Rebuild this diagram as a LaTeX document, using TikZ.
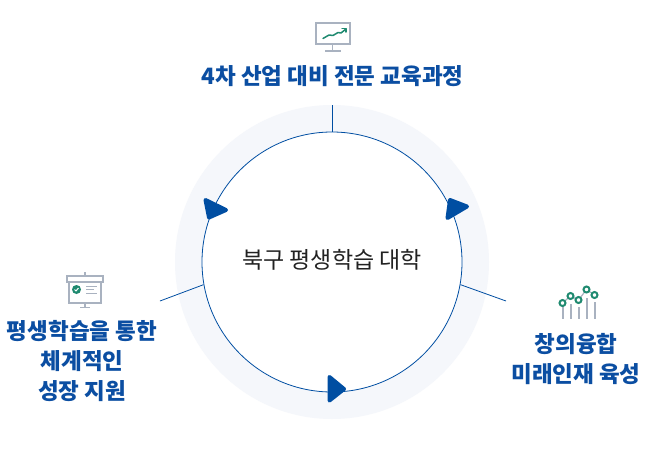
\documentclass[tikz,border=0pt]{standalone}
\usepackage{fontspec}
\newfontfamily\cjk{Noto Sans CJK KR}
\definecolor{navy}{HTML}{004EA2}
\definecolor{ringbg}{HTML}{F5F7FB}
\definecolor{titlec}{HTML}{0B4EA2}
\definecolor{iconGray}{HTML}{A9B2C0}
\definecolor{iconGreen}{HTML}{1F8A70}
\definecolor{darktxt}{HTML}{222222}
\tikzset{
  lbl/.style={font=\cjk\bfseries\fontsize{22.5}{30}\selectfont,text=titlec,align=center,inner sep=0pt},
  centerlbl/.style={font=\cjk\fontsize{23}{26}\selectfont,text=darktxt,inner sep=0pt},
  conn/.style={draw=navy,line width=0.8pt},
  tip/.style={fill=navy,draw=navy,line width=4pt,line join=round},
  ig/.style={draw=iconGray,line width=1.5pt},
  igr/.style={draw=iconGreen,line width=1.5pt,line join=round,line cap=round},
  dot/.style={circle,draw=iconGreen,fill=white,line width=2pt,minimum size=6pt,inner sep=0pt}
}
\begin{document}
\begin{tikzpicture}[x=1pt,y=-1pt]
\useasboundingbox (0,0) rectangle (650,469);
\fill[white] (0,0) rectangle (650,469);
% ring
\fill[ringbg] (332,262) circle (157);
\fill[white] (332,262) circle (130);
\node[circle,minimum size=260pt,inner sep=0pt,draw=navy,line width=0.8pt] (main) at (332,262) {};
\node[centerlbl] (title) at (332,260) {북구 평생학습 대학};
% connectors
\coordinate (topEnd) at (332,105);
\coordinate (leftEnd) at (160,301);
\coordinate (rightEnd) at (506,301);
\draw[conn] (topEnd) -- (main.90);
\draw[conn] (leftEnd) -- (main.190);
\draw[conn] (rightEnd) -- (main.-10);
% arrow tips
\filldraw[tip] (205.5,200) -- (226,210) -- (209,217.5) -- cycle;
\filldraw[tip] (450,200) -- (467,206.5) -- (447.5,218) -- cycle;
\filldraw[tip] (329.5,377) -- (344,389) -- (329.5,400.5) -- cycle;
% labels
\node[lbl] (l1) at (332.5,76) {4차 산업 대비 전문 교육과정};
\node[lbl] (l2) at (82,361.5) {평생학습을 통한\\체계적인\\성장 지원};
\node[lbl] (l3) at (576,359.5) {창의융합\\미래인재 육성};
% icon monitor
\draw[ig] (316,23) rectangle (350,44);
\draw[ig] (332.5,44) -- (332.5,50);
\draw[ig] (325,51) -- (341,51);
\draw[igr] (323,38.5) -- (329,35) -- (333,35.5) -- (338,32.5) -- (341,33) -- (346,29);
\draw[igr] (342,28.5) -- (346,28.5) -- (346,32);
% icon board
\draw[ig] (67,276) rectangle (103,282);
\draw[ig] (69,282) -- (69,303) -- (101,303) -- (101,282);
\draw[ig] (85,272) -- (85,276);
\draw[ig] (85,303) -- (85,307);
\draw[ig] (80,307.5) -- (90,307.5);
\fill[iconGreen] (76.5,289.5) circle (4.5);
\draw[white,line width=1pt] (74.5,289.5) -- (76,291) -- (78.5,288);
\draw[iconGray,line width=1pt] (86,286) -- (97,286) (86,289.5) -- (94,289.5) (86,293) -- (97,293);
% icon chart
\draw[ig,line width=2pt] (562.5,304) -- (562.5,319);
\draw[ig,line width=2pt] (570.5,304) -- (570.5,319);
\draw[ig,line width=2pt] (578.5,307) -- (578.5,319);
\draw[ig,line width=2pt] (586.5,298) -- (586.5,319);
\draw[ig,line width=2pt] (594.5,302) -- (594.5,319);
\draw[draw=iconGray,line width=1.2pt] (562.5,303) -- (570.5,296) -- (578.5,300) -- (586.5,289.5) -- (594.5,295);
\node[dot] (d1) at (562.5,303) {};
\node[dot] (d2) at (570.5,296) {};
\node[dot] (d3) at (578.5,300) {};
\node[dot] (d4) at (586.5,289.5) {};
\node[dot] (d5) at (594.5,295) {};
\end{tikzpicture}
\end{document}
